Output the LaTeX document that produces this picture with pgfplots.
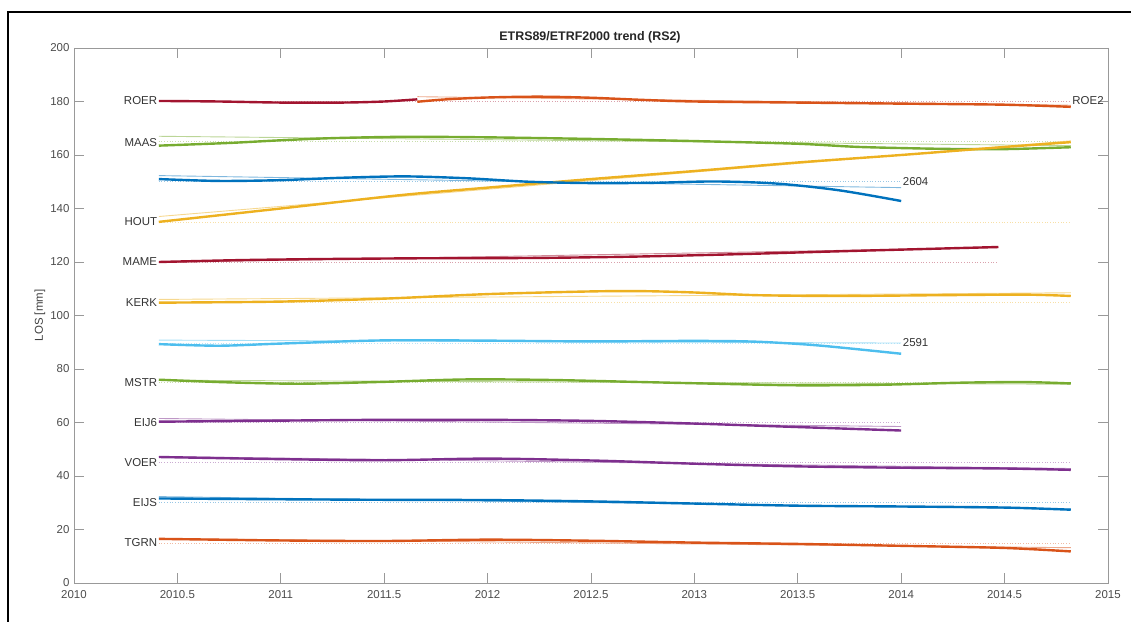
\documentclass[border=0pt]{standalone}
\usepackage{pgfplots}
\pgfplotsset{compat=1.18}
\usepackage{fontspec}
\setmainfont{Liberation Sans}
\definecolor{mblue}{HTML}{0072BD}
\definecolor{morange}{HTML}{D95319}
\definecolor{myellow}{HTML}{EDB120}
\definecolor{mpurple}{HTML}{7E2F8E}
\definecolor{mgreen}{HTML}{77AC30}
\definecolor{mlblue}{HTML}{4DBEEE}
\definecolor{mred}{HTML}{A2142F}
\pgfplotsset{
  mainline/.style={line width=2.4bp, smooth, tension=0.5, color=#1},
  trendline/.style={line width=0.9bp, color=#1!50!white},
  refline/.style={line width=0.7bp, dotted, color=#1!40!white},
}
\begin{document}
\begin{tikzpicture}
\begin{axis}[
  at={(0,0)}, anchor=south west,
  scale only axis, width=1034bp, height=535bp,
  xmin=2010, xmax=2015, ymin=0, ymax=200,
  xtick distance=0.5, ytick distance=20,
  tick align=inside, major tick length=10bp,
  axis line style={black!40, line width=0.9bp},
  tick style={black!40, line width=0.9bp},
  every tick label/.append style={font=\fontsize{11.5}{13}\selectfont, text=black!70},
  /pgf/number format/assume math mode=true,
  xticklabel style={yshift=-4bp, /pgf/number format/.cd, fixed, precision=1, 1000 sep={}},
  yticklabel style={xshift=-1bp, /pgf/number format/.cd, fixed, precision=0, 1000 sep={}},
  clip=false,
]
% reference (dotted) lines
\addplot[refline=mred] coordinates {(2010.41,180.2)(2014.82,180.2)};
\addplot[refline=mgreen] coordinates {(2010.41,165)(2014.82,165)};
\addplot[refline=myellow] coordinates {(2010.41,135)(2014.82,135)};
\addplot[refline=mblue] coordinates {(2010.41,150)(2014,150)};
\addplot[refline=mred] coordinates {(2010.41,120)(2014.47,120)};
\addplot[refline=myellow] coordinates {(2010.41,105)(2014.82,105)};
\addplot[refline=mlblue] coordinates {(2010.41,89.7)(2014,89.7)};
\addplot[refline=mgreen] coordinates {(2010.41,75)(2014.82,75)};
\addplot[refline=mpurple] coordinates {(2010.41,60)(2014,60)};
\addplot[refline=mpurple] coordinates {(2010.41,45)(2014.82,45)};
\addplot[refline=mblue] coordinates {(2010.41,30)(2014.82,30)};
\addplot[refline=morange] coordinates {(2010.41,15)(2014.82,15)};
% trend lines
\addplot[trendline=morange] coordinates {(2011.66,181.8)(2014.82,178.6)};
\addplot[trendline=mgreen] coordinates {(2010.41,167)(2014.82,163.5)};
\addplot[trendline=myellow] coordinates {(2010.41,137)(2014.82,165.3)};
\addplot[trendline=mblue] coordinates {(2010.41,152.3)(2014,147.8)};
\addplot[trendline=mred] coordinates {(2010.41,119.8)(2014.47,125.4)};
\addplot[trendline=myellow] coordinates {(2010.41,106)(2014.82,108.5)};
\addplot[trendline=mlblue] coordinates {(2010.41,90.8)(2014,89.7)};
\addplot[trendline=mgreen] coordinates {(2010.41,75.8)(2014.82,74.3)};
\addplot[trendline=mpurple] coordinates {(2010.41,61.5)(2014,58.5)};
\addplot[trendline=mpurple] coordinates {(2010.41,47.3)(2014.82,42.8)};
\addplot[trendline=mblue] coordinates {(2010.41,32.3)(2014.82,27.6)};
\addplot[trendline=morange] coordinates {(2010.41,16.6)(2014.82,13.2)};
% main series
\addplot[mainline=mred] coordinates {(2010.41,180.2)(2010.7,180.0)(2011.0,179.6)(2011.3,179.6)(2011.5,180.0)(2011.66,180.8)};
\addplot[mainline=morange] coordinates {(2011.66,179.9)(2011.8,180.8)(2012.0,181.5)(2012.25,181.8)(2012.5,181.4)(2012.75,180.6)(2013.0,180.0)(2013.5,179.6)(2014.0,179.2)(2014.5,178.8)(2014.82,178.0)};
\addplot[mainline=mgreen] coordinates {(2010.41,163.5)(2010.75,164.5)(2011.0,165.5)(2011.25,166.3)(2011.6,166.8)(2012.0,166.6)(2012.5,166.0)(2013.0,165.2)(2013.5,164.2)(2013.8,163.0)(2014.2,162.3)(2014.5,162.2)(2014.82,162.9)};
\addplot[mainline=myellow] coordinates {(2010.41,135)(2011,140)(2011.58,145)(2012,147.8)(2012.5,151.0)(2013,154.0)(2013.5,157.2)(2014,160.0)(2014.5,163)(2014.82,164.8)};
\addplot[mainline=mblue] coordinates {(2010.41,151)(2010.7,150.3)(2011.0,150.6)(2011.3,151.5)(2011.6,152)(2011.9,151.3)(2012.2,150)(2012.5,149.5)(2012.8,149.6)(2013.1,150.1)(2013.4,149.3)(2013.7,146.8)(2014,142.8)};
\addplot[mainline=mred] coordinates {(2010.41,120)(2010.8,120.7)(2011.2,121.1)(2011.7,121.4)(2012.2,121.5)(2012.7,122.0)(2013.2,122.9)(2013.7,124.0)(2014.47,125.6)};
\addplot[mainline=myellow] coordinates {(2010.41,104.8)(2011,105.2)(2011.5,106.3)(2012,108.0)(2012.5,109.0)(2012.75,109.1)(2013.0,108.6)(2013.3,107.6)(2013.7,107.3)(2014.2,107.6)(2014.6,107.8)(2014.82,107.3)};
\addplot[mainline=mlblue] coordinates {(2010.41,89.3)(2010.7,88.7)(2011.0,89.5)(2011.5,90.7)(2012.0,90.6)(2012.5,90.3)(2013.0,90.5)(2013.3,90.2)(2013.6,88.8)(2014,85.7)};
\addplot[mainline=mgreen] coordinates {(2010.41,76)(2010.75,75)(2011.1,74.5)(2011.5,75.2)(2011.9,76.1)(2012.3,75.9)(2012.7,75.2)(2013.1,74.5)(2013.5,73.9)(2013.9,74.1)(2014.3,74.9)(2014.6,75.1)(2014.82,74.6)};
\addplot[mainline=mpurple] coordinates {(2010.41,60.3)(2011,60.7)(2011.5,61.0)(2012,61.0)(2012.5,60.6)(2013,59.6)(2013.5,58.3)(2014,57.0)};
\addplot[mainline=mpurple] coordinates {(2010.41,47.1)(2011,46.3)(2011.5,45.9)(2012,46.5)(2012.5,45.8)(2013,44.6)(2013.5,43.6)(2014,43.1)(2014.5,42.8)(2014.82,42.3)};
\addplot[mainline=mblue] coordinates {(2010.41,31.6)(2011,31.3)(2011.5,31.1)(2012,31.0)(2012.5,30.5)(2013,29.7)(2013.5,28.9)(2014,28.6)(2014.5,28.2)(2014.82,27.4)};
\addplot[mainline=morange] coordinates {(2010.41,16.5)(2011,15.9)(2011.5,15.7)(2012,16.2)(2012.5,15.8)(2013,15.1)(2013.5,14.6)(2014,13.9)(2014.5,13.1)(2014.82,11.8)};
% labels
\begin{scope}[every node/.style={font=\fontsize{11.5}{13}\selectfont, text=black!80, inner sep=1.5bp}]
\node[anchor=east] at (axis cs:2010.41,180.2) {ROER};
\node[anchor=east] at (axis cs:2010.41,164.5) {MAAS};
\node[anchor=east] at (axis cs:2010.41,135) {HOUT};
\node[anchor=east] at (axis cs:2010.41,120) {MAME};
\node[anchor=east] at (axis cs:2010.41,105) {KERK};
\node[anchor=east] at (axis cs:2010.41,74.8) {MSTR};
\node[anchor=east] at (axis cs:2010.41,59.8) {EIJ6};
\node[anchor=east] at (axis cs:2010.41,44.9) {VOER};
\node[anchor=east] at (axis cs:2010.41,29.9) {EIJS};
\node[anchor=east] at (axis cs:2010.41,15) {TGRN};
\node[anchor=west] at (axis cs:2014.82,180.2) {ROE2};
\node[anchor=west] at (axis cs:2014,150) {2604};
\node[anchor=west] at (axis cs:2014,89.7) {2591};
\end{scope}
\end{axis}
\node[font=\fontsize{11.5}{13}\selectfont, text=black!75, rotate=90] at (-34bp,267.5bp) {LOS [mm]};
\node[font=\bfseries\fontsize{12.5}{14}\selectfont, text=black!85] at (516bp,545.5bp) {ETRS89/ETRF2000 trend (RS2)};
\draw[line width=2.5bp] (-66bp,-39bp) -- (-66bp,571bp) -- (1057bp,571bp);
\pgfresetboundingbox
\path[use as bounding box] (-74bp,-39bp) rectangle (1057bp,583bp);
\end{tikzpicture}
\end{document}
